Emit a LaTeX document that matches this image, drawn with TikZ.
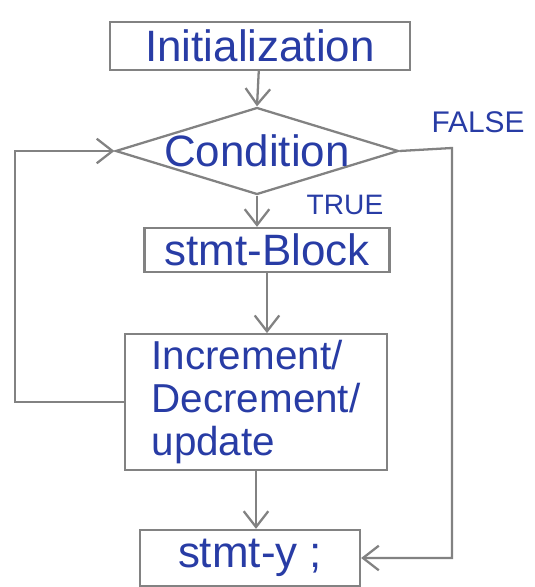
\documentclass[tikz,border=0pt]{standalone}
\usepackage{fontspec}
\setmainfont{Liberation Sans}
\usetikzlibrary{shapes.geometric,arrows.meta}
\definecolor{ink}{RGB}{40,60,165}
\definecolor{pencil}{RGB}{130,130,130}
\tikzset{
  box/.style={draw=pencil,line width=1.3pt,text=ink,font=\fontsize{25}{25}\selectfont},
  flow/.style={draw=pencil,line width=1.3pt,-{Straight Barb[length=9pt,width=14pt]}},
  tag/.style={text=ink,font=\fontsize{17}{17}\selectfont},
}
\begin{document}
\begin{tikzpicture}[x=0.02cm,y=-0.02cm]
\useasboundingbox (0,0) rectangle (534,587);
\node[box,minimum width=6cm,minimum height=0.96cm] (init) at (260,46) {Initialization};
\node[box,diamond,minimum width=5.66cm,minimum height=1.74cm,inner sep=0pt] (cond) at (257,151) {};
\node[box,draw=none] (condtxt) at (cond) {Condition};
\node[box,minimum width=4.9cm,minimum height=0.88cm] (block) at (267,250) {stmt-Block};
\node[box,minimum width=5.24cm,minimum height=2.7cm,align=left,font=\fontsize{23}{24.5}\selectfont] (incr) at (256,402) {Increment/\\Decrement/\\update};
\node[box,minimum width=4.4cm,minimum height=1.12cm] (end) at (250,558) {stmt-y ;};
\node[tag] (false) at (478,122) {FALSE};
\node[tag,font=\fontsize{16}{16}\selectfont] (true) at (345,205) {TRUE};
\coordinate (lcorner) at (15,402); \coordinate (fcorner) at (452,148);
\draw[flow] (init) -- (cond.north);
\draw[flow] (cond.south) -- (cond.south |- block.north);
\draw[flow] (block.south) -- (block.south |- incr.north);
\draw[flow] (incr.south) -- (incr.south |- end.north);
\draw[flow] (incr.west) -- (lcorner) |- (cond.west);
\draw[flow] (cond.east) -- (fcorner) |- (end.east);
\end{tikzpicture}
\end{document}
